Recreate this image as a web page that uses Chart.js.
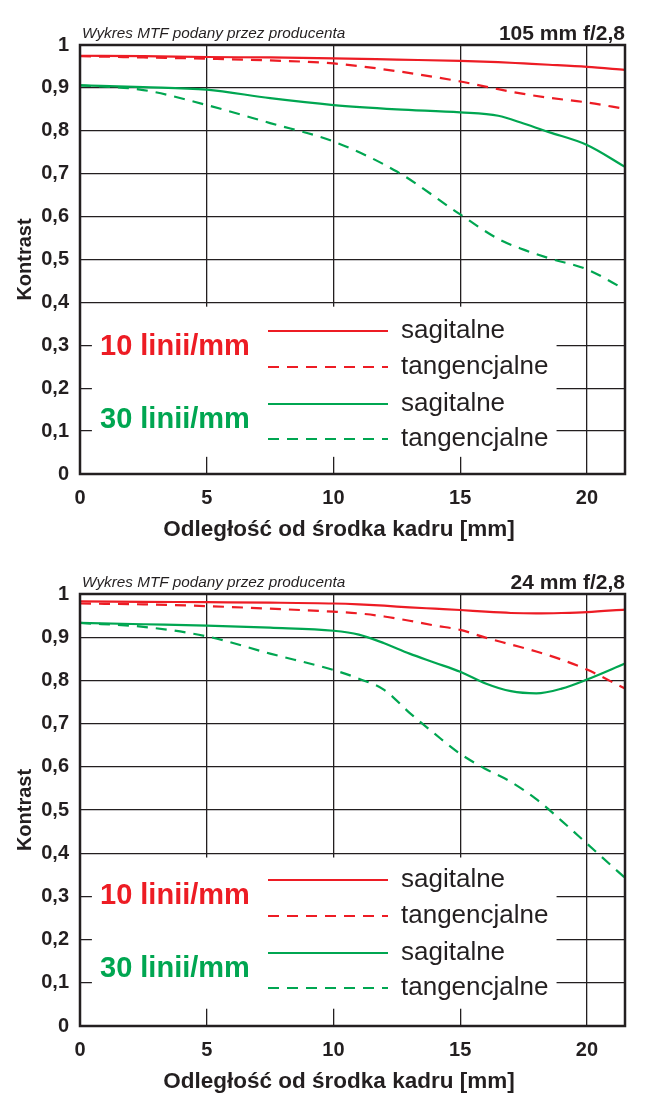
<!DOCTYPE html>
<html>
<head>
<meta charset="utf-8">
<script src="https://cdn.jsdelivr.net/npm/chart.js@4.4.0/dist/chart.umd.min.js"></script>
<style>
  body { margin: 0; background: #fff; }
  #page { position: relative; width: 650px; height: 1106px; }
  .panel { position: absolute; left: 0; width: 650px; height: 557px; }
  .note { position: absolute; left: 82px; top: 24px; font: italic 15.3px 'Liberation Sans', sans-serif; color: #231f20; }
  .lens { position: absolute; right: 25px; top: 21px; font: bold 21px 'Liberation Sans', sans-serif; color: #231f20; }
  .xtitle { position: absolute; left: 139px; width: 400px; text-align: center; font: bold 22.5px 'Liberation Sans', sans-serif; color: #231f20; }
</style>
</head>
<body>
<div id="page">
  <div class="panel" style="top:0">
    <canvas id="chart105"></canvas>
    <div class="note">Wykres MTF podany przez producenta</div>
    <div class="lens">105 mm f/2,8</div>
    <div class="xtitle" style="top:516px">Odległość od środka kadru [mm]</div>
  </div>
  <div class="panel" style="top:549px">
    <canvas id="chart24"></canvas>
    <div class="note">Wykres MTF podany przez producenta</div>
    <div class="lens">24 mm f/2,8</div>
    <div class="xtitle" style="top:519px">Odległość od środka kadru [mm]</div>
  </div>
</div>
<script>
// 105 mm f/2,8
const mm105 = [0, 2.5, 5, 7.5, 10, 12.5, 15, 16.5, 17.5, 18.5, 20, 21.5];
const sag10_105 = [0.975, 0.974, 0.972, 0.971, 0.969, 0.966, 0.963, 0.960, 0.957, 0.954, 0.949, 0.942];
const tan10_105 = [0.974, 0.971, 0.968, 0.964, 0.957, 0.939, 0.915, 0.897, 0.886, 0.877, 0.866, 0.851];
const sag30_105 = [0.906, 0.902, 0.896, 0.876, 0.860, 0.850, 0.843, 0.835, 0.817, 0.797, 0.767, 0.716];
const tan30_105 = [0.906, 0.895, 0.860, 0.818, 0.775, 0.705, 0.605, 0.548, 0.523, 0.503, 0.477, 0.430];

// 24 mm f/2,8
const mm24 = [0, 2.5, 5, 7.5, 10, 11, 12, 13, 14, 15, 16, 17, 18, 19, 20, 21.5];
const sag10_24 = [0.983, 0.982, 0.981, 0.980, 0.978, 0.976, 0.973, 0.969, 0.966, 0.963, 0.959, 0.956, 0.955, 0.956, 0.958, 0.964];
const tan10_24 = [0.978, 0.976, 0.972, 0.966, 0.959, 0.955, 0.948, 0.938, 0.927, 0.917, 0.899, 0.883, 0.867, 0.848, 0.825, 0.781];
const sag30_24 = [0.933, 0.930, 0.927, 0.922, 0.915, 0.906, 0.886, 0.862, 0.841, 0.820, 0.793, 0.775, 0.770, 0.781, 0.802, 0.839];
const tan30_24 = [0.933, 0.924, 0.902, 0.862, 0.824, 0.804, 0.778, 0.725, 0.676, 0.630, 0.595, 0.565, 0.525, 0.475, 0.422, 0.343];

const xTicks = [0, 5, 10, 15, 20];
const yTicks = [0, 0.1, 0.2, 0.3, 0.4, 0.5, 0.6, 0.7, 0.8, 0.9, 1];
const legendGroups = ['10 linii/mm', '30 linii/mm'];
const legendKinds = ['sagitalne', 'tangencjalne'];

const RED = '#ed1c24';
const GREEN = '#00a651';
const INK = '#231f20';
const DASH = [11, 8];
const FONT = '"Liberation Sans", Arial, sans-serif';

function points(xs, ys) {
    return xs.map((x, i) => ({ x: x, y: ys[i] }));
}

function series(label, xs, ys, color, dashed) {
    return {
        label: label,
        data: points(xs, ys),
        borderColor: color,
        borderWidth: 2.2,
        borderDash: dashed ? DASH : [],
        pointRadius: 0,
        fill: false,
        cubicInterpolationMode: 'monotone'
    };
}

// white box behind the legend, then the legend itself
const legendPlugin = {
    id: 'mtfLegend',
    beforeDatasetsDraw(chart) {
        const { ctx, chartArea: a, scales: { x, y } } = chart;
        ctx.save();
        ctx.fillStyle = '#fff';
        const bx1 = x.getPixelForValue(0.47), bx2 = x.getPixelForValue(18.8);
        const by1 = y.getPixelForValue(0.39), by2 = y.getPixelForValue(0.04);
        ctx.fillRect(bx1, by1, bx2 - bx1, by2 - by1);

        const colors = [RED, GREEN];
        const lineY = [286, 322, 359, 394];
        const groupY = [302, 375];
        ctx.textBaseline = 'middle';
        legendGroups.forEach((g, i) => {
            ctx.fillStyle = colors[i];
            ctx.font = 'bold 29px ' + FONT;
            ctx.textAlign = 'left';
            ctx.fillText(g, a.left + 20, a.top + groupY[i]);
            legendKinds.forEach((k, j) => {
                const ly = a.top + lineY[i * 2 + j];
                ctx.strokeStyle = colors[i];
                ctx.lineWidth = 2.2;
                ctx.setLineDash(j === 1 ? DASH : []);
                ctx.beginPath();
                ctx.moveTo(a.left + 188, ly);
                ctx.lineTo(a.left + 308, ly);
                ctx.stroke();
                ctx.setLineDash([]);
                ctx.fillStyle = INK;
                ctx.font = '26px ' + FONT;
                ctx.fillText(k, a.left + 321, ly);
            });
        });
        ctx.restore();
    },
    afterDraw(chart) {
        const { ctx, chartArea: a } = chart;
        ctx.save();
        ctx.strokeStyle = INK;
        ctx.lineWidth = 2.5;
        ctx.strokeRect(a.left, a.top, a.right - a.left, a.bottom - a.top);
        ctx.restore();
    }
};

function makeChart(id, xs, s10, t10, s30, t30, xAxisHeight) {
    return new Chart(document.getElementById(id), {
        type: 'line',
        data: {
            datasets: [
                series('10 sagitalne', xs, s10, RED, false),
                series('10 tangencjalne', xs, t10, RED, true),
                series('30 sagitalne', xs, s30, GREEN, false),
                series('30 tangencjalne', xs, t30, GREEN, true)
            ]
        },
        options: {
            responsive: true,
            maintainAspectRatio: false,
            animation: false,
            layout: { padding: { top: 45, right: 25, left: 0, bottom: 0 } },
            plugins: { legend: { display: false }, tooltip: { enabled: false } },
            scales: {
                x: {
                    type: 'linear',
                    min: 0,
                    max: 21.5,
                    afterBuildTicks: scale => { scale.ticks = xTicks.map(v => ({ value: v })); },
                    afterFit: scale => { scale.height = xAxisHeight; },
                    grid: { color: INK, lineWidth: 1.3, drawTicks: false },
                    border: { display: false },
                    ticks: {
                        padding: 12,
                        color: INK,
                        font: { family: FONT, size: 20, weight: 'bold' }
                    }
                },
                y: {
                    min: 0,
                    max: 1,
                    afterBuildTicks: scale => { scale.ticks = yTicks.map(v => ({ value: v })); },
                    afterFit: scale => { scale.width = 80; },
                    grid: { color: INK, lineWidth: 1.3, drawTicks: false },
                    border: { display: false },
                    ticks: {
                        padding: 11,
                        color: INK,
                        font: { family: FONT, size: 20, weight: 'bold' },
                        callback: v => (v === 0 || v === 1) ? String(v) : v.toFixed(1).replace('.', ',')
                    },
                    title: {
                        display: true,
                        text: 'Kontrast',
                        color: INK,
                        padding: { top: 13, bottom: 0 },
                        font: { family: FONT, size: 20, weight: 'bold' }
                    }
                }
            }
        },
        plugins: [legendPlugin]
    });
}

makeChart('chart105', mm105, sag10_105, tan10_105, sag30_105, tan30_105, 83);
makeChart('chart24', mm24, sag10_24, tan10_24, sag30_24, tan30_24, 80);
</script>
</body>
</html>
